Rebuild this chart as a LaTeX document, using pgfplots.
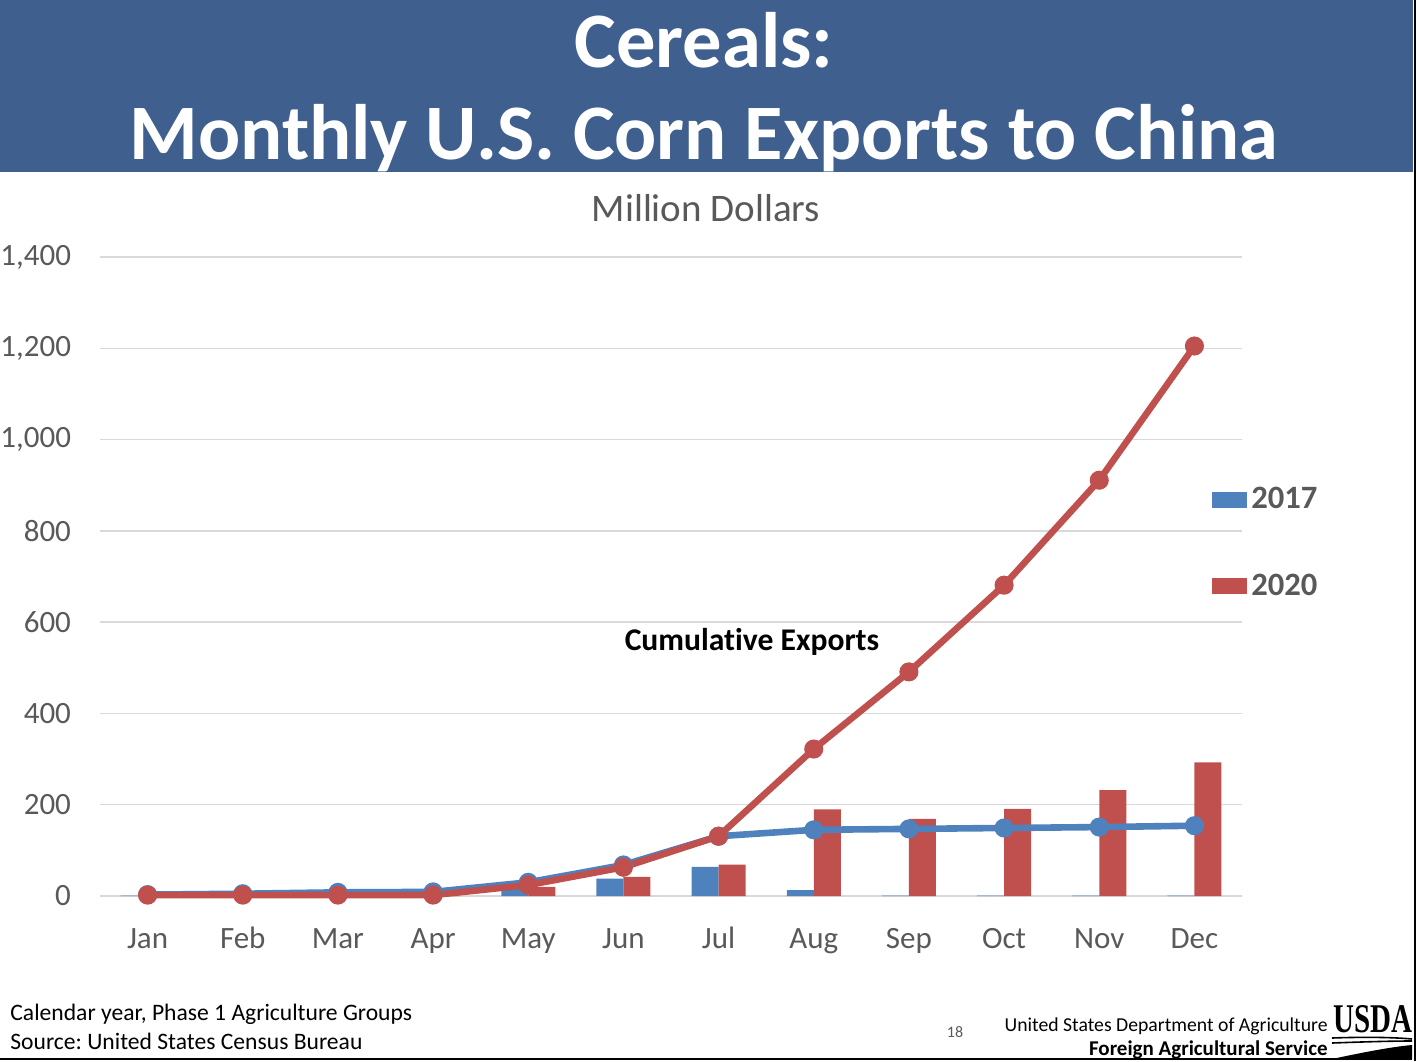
\documentclass[border=0pt]{standalone}
\usepackage{pgfplots}
\pgfplotsset{compat=1.18}
\usepackage{fontspec}
\setmainfont{Carlito}[Ligatures=NoCommon]
\newfontfamily\logofont{Liberation Serif}
\frenchspacing

\definecolor{band}{HTML}{3F5F8E}
\definecolor{cblue}{HTML}{4F81BD}
\definecolor{cred}{HTML}{C0504D}
\definecolor{txtgray}{HTML}{595959}
\definecolor{gridgray}{HTML}{D9D9D9}

\begin{document}
\begin{tikzpicture}
% page frame: 1px = 0.5pt
\path[use as bounding box] (0,0) rectangle (708.5pt,530.5pt);
\fill[band] (0,444.5pt) rectangle (706.5pt,530.5pt);
\node[anchor=base, text=white, font=\fontsize{39.3}{40}\selectfont\bfseries] at (352pt,496.5pt) {Cereals:};
\node[anchor=base, text=white, font=\fontsize{39.3}{40}\selectfont\bfseries] at (352pt,450.5pt) {Monthly U.S. Corn Exports to China};
\node[anchor=base, text=txtgray, font=\fontsize{19.5}{21}\selectfont] at (353pt,419.5pt) {Million Dollars};

\begin{axis}[
    at={(50pt,82.5pt)}, anchor=south west,
    scale only axis, width=571pt, height=319.5pt,
    xmin=-0.5, xmax=11.5, ymin=0, ymax=1400,
    xtick={0,...,11},
    xticklabels={Jan,Feb,Mar,Apr,May,Jun,Jul,Aug,Sep,Oct,Nov,Dec},
    ytick={0,200,...,1400},
    /pgf/number format/.cd, 1000 sep={,}, assume math mode=true, /pgfplots/.cd,
    axis line style={draw=none},
    major tick length=0pt,
    ymajorgrids, grid style={gridgray, line width=0.7pt},
    tick label style={text=txtgray, font=\fontsize{15.5}{17}\selectfont},
    yticklabel style={xshift=-11pt},
    xticklabel style={anchor=base, yshift=-26pt},
    clip=false,
    legend style={draw=none, fill=none, at={(0.9737,0.6464)}, anchor=north west,
        inner sep=0pt, row sep=27pt, font=\fontsize{16.3}{18}\selectfont\bfseries,
        text=txtgray},
    legend cell align=left,
    legend image code/.code={\fill[#1] (0pt,-4pt) rectangle (17.5pt,4pt);},
]
% monthly exports (bars)
\addplot[ybar, bar width=13.5pt, bar shift=-6.75pt, fill=cblue, draw=none] coordinates {
    (0,1) (1,2) (2,3) (3,1) (4,20) (5,38) (6,64) (7,13) (8,1) (9,1) (10,1) (11,1)};
\addlegendentry{2017}
\addplot[ybar, bar width=13.5pt, bar shift=6.75pt, fill=cred, draw=none] coordinates {
    (0,1) (1,1) (2,1) (3,1) (4,20) (5,42) (6,69) (7,190) (8,169) (9,191) (10,232) (11,293)};
\addlegendentry{2020}
% cumulative exports (lines)
\addplot[forget plot, cblue, line width=3.3pt, mark=*, mark size=3.1pt] coordinates {
    (0,3) (1,5) (2,8) (3,9) (4,30) (5,68) (6,131) (7,145) (8,147) (9,149) (10,151) (11,154)};
\addplot[forget plot, cred, line width=3.3pt, mark=*, mark size=3.1pt] coordinates {
    (0,2) (1,2) (2,2) (3,2) (4,24) (5,63) (6,131) (7,322) (8,491) (9,681) (10,911) (11,1205)};
\end{axis}

\node[font=\fontsize{15.8}{17}\selectfont\bfseries] at (376pt,209.5pt) {Cumulative Exports};

% footer
\node[anchor=base west, font=\fontsize{11.8}{13}\selectfont, inner sep=0pt] at (5pt,20.5pt) {Calendar year, Phase 1 Agriculture Groups};
\node[anchor=base west, font=\fontsize{11.8}{13}\selectfont, inner sep=0pt] at (5pt,6pt) {Source: United States Census Bureau};
\node[anchor=base, text=txtgray, font=\fontsize{8}{9}\selectfont, inner sep=0pt] at (477.5pt,12pt) {18};
\node[anchor=base east, font=\fontsize{9.85}{11}\selectfont, inner sep=0pt] at (664pt,15pt) {United States Department of Agriculture};
\node[anchor=base east, font=\fontsize{10.5}{12}\selectfont\bfseries, inner sep=0pt] at (664pt,3pt) {Foreign Agricultural Service};
\node[anchor=south west, inner sep=0pt] at (666.5pt,14pt) {\resizebox{39.5pt}{13.5pt}{\logofont\bfseries USDA}};
\fill (666pt,1pt) .. controls (680pt,4pt) and (695pt,7pt) .. (706pt,8pt) -- (706pt,1pt) -- cycle;
\draw[line width=0.8pt] (666pt,11.5pt) .. controls (680pt,12pt) and (695pt,12pt) .. (706pt,11pt);
\draw[line width=0.8pt] (666pt,9pt) .. controls (680pt,9.5pt) and (695pt,10pt) .. (706pt,10pt);
\draw[line width=1pt] (0,1pt) -- (706pt,1pt);
\draw[line width=1pt] (707.5pt,0) -- (707.5pt,530.5pt);
\end{tikzpicture}
\end{document}
